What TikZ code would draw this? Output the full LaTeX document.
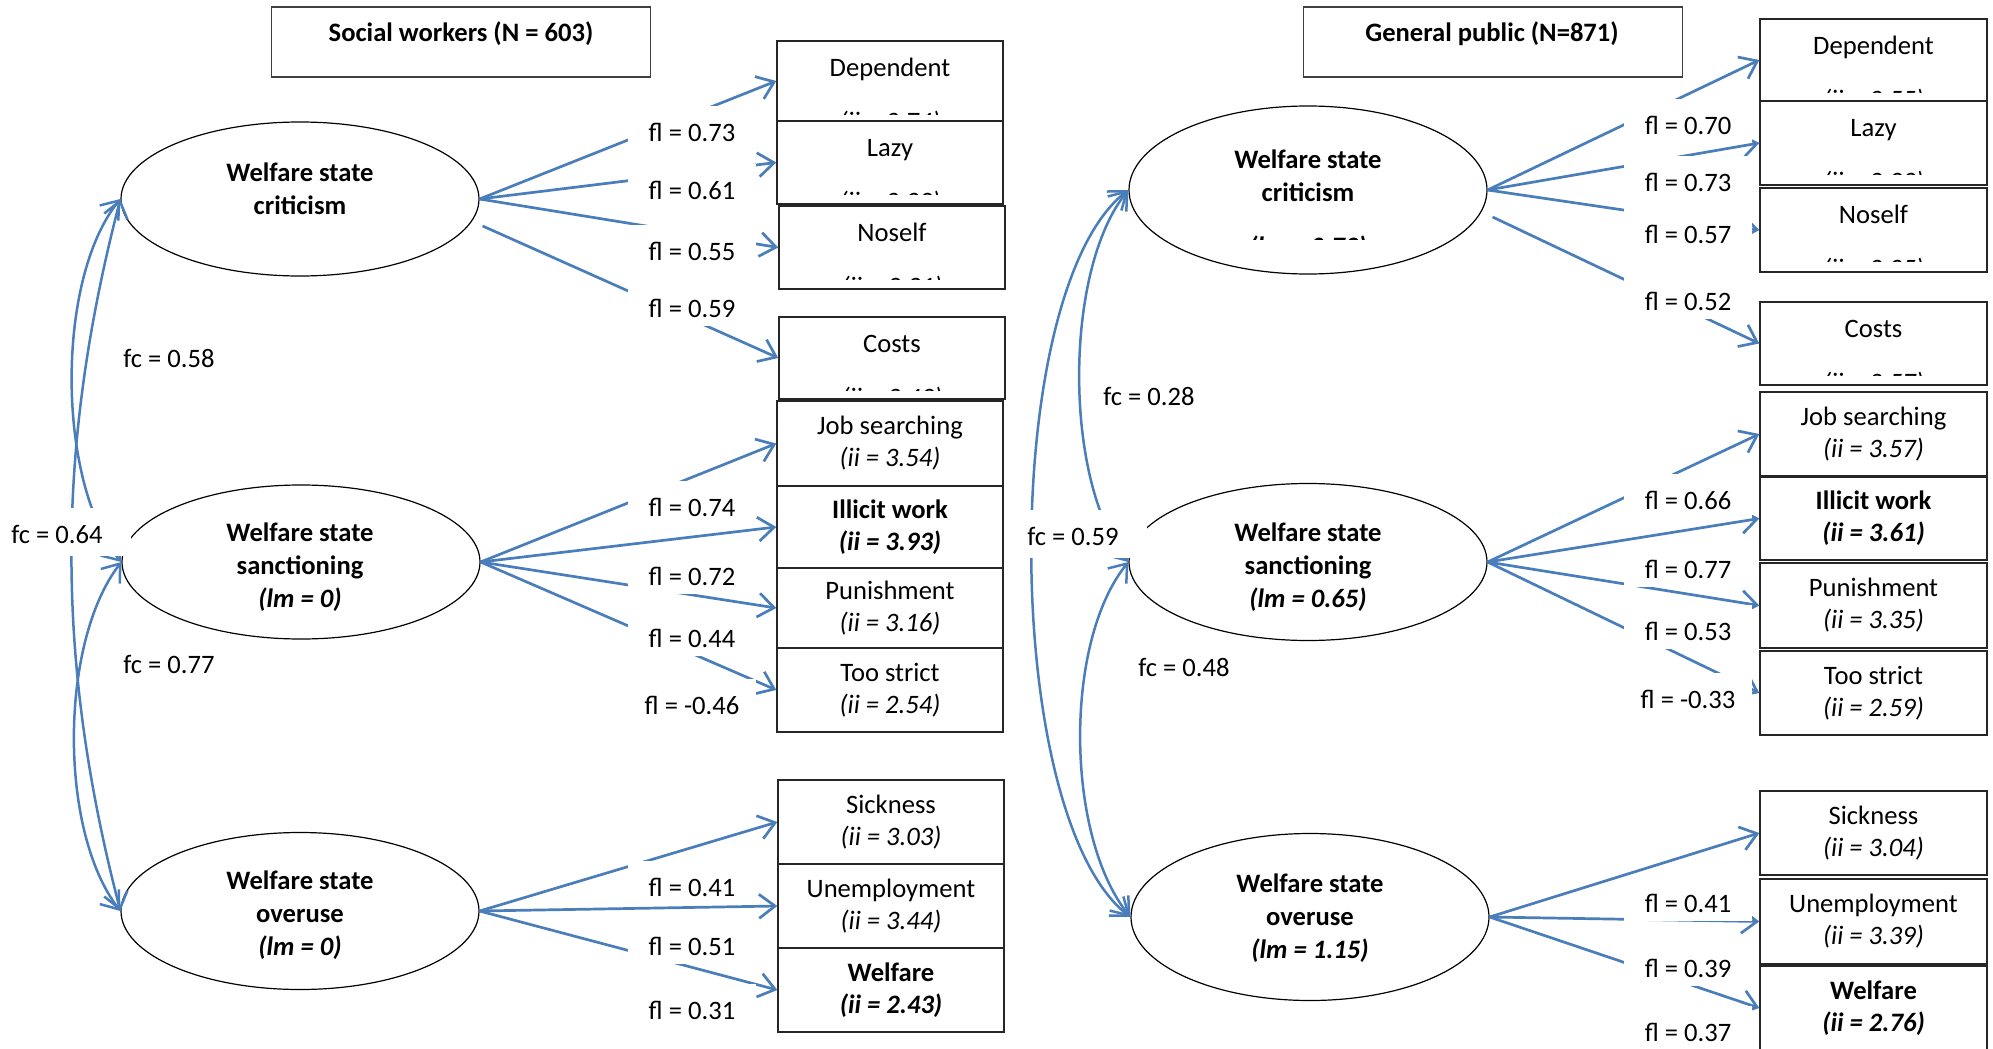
\documentclass[tikz,border=0pt]{standalone}
\usepackage{fontspec}
\setmainfont{Carlito}
\usetikzlibrary{arrows.meta,shapes.geometric}
\definecolor{ablue}{RGB}{74,126,187}
\begin{document}
\begin{tikzpicture}[x=0.5pt,y=-0.5pt,
  every node/.style={font=\fontsize{13.3}{16}\selectfont},
  ell/.style={draw=black, line width=0.6pt, ellipse, minimum width=179pt, inner sep=0pt},
  etext/.style={font=\fontsize{13.3}{16.5}\selectfont\bfseries, align=center, inner sep=0pt},
  ind/.style={draw=black!85, line width=0.7pt, rectangle, fill=white, minimum width=113pt, inner sep=0pt, align=center},
  bind/.style={ind, font=\fontsize{13.3}{16}\selectfont\bfseries},
  title/.style={draw=black!75, line width=0.7pt, rectangle, minimum width=189.5pt, minimum height=35pt, inner sep=0pt},
  ttext/.style={font=\fontsize{13.3}{16}\selectfont\bfseries, inner sep=0pt},
  first/.style={anchor=base, inner sep=0pt},
  second/.style={anchor=base, inner sep=0pt, font=\fontsize{13.3}{16}\selectfont\itshape},
  arr/.style={draw=ablue, line width=1.35pt, -{Straight Barb[length=8pt,width=12pt]}},
  cov/.style={draw=ablue, line width=1.25pt, {Straight Barb[length=8pt,width=12pt]}-{Straight Barb[length=8pt,width=12pt]}},
  fl/.style={fill=white, inner xsep=0pt, inner ysep=0pt, minimum width=64pt, text height=17.8pt, text depth=4.2pt},
  fc/.style={fill=white, anchor=west, inner xsep=5pt, inner ysep=0pt, text width=55pt, align=flush left, text height=17.8pt, text depth=6.2pt}
]
\useasboundingbox (0,0) rectangle (1993,1049);

% ---------- titles ----------
\node[title] (tL) at (461,42) {};
\node[ttext] (tLt) at (461,34) {Social workers (N = 603)};
\node[title] (tR) at (1493,42) {};
\node[ttext] (tRt) at (1492,34) {General public (N=871)};

% ---------- latent ellipses ----------
\node[ell, minimum height=77pt] (cL) at (300,199) {};
\node[ell, minimum height=77pt] (sL) at (301,562) {};
\node[ell, minimum height=78.5pt] (oL) at (300,911) {};
\node[ell, minimum height=84pt] (cR) at (1308,190) {};
\node[ell, minimum height=78.5pt] (sR) at (1308,562) {};
\node[ell, minimum height=83.5pt] (oR) at (1310,917) {};

\node[etext] (cLt) at (300,188.5) {Welfare state\\criticism};
\node[etext] (sLt) at (300,567) {Welfare state\\sanctioning\\\textit{(lm = 0)}};
\node[etext] (oLt) at (300,915) {Welfare state\\overuse\\\textit{(lm = 0)}};
\node[etext] (cRt) at (1308,175.5) {Welfare state\\criticism};
\begin{scope}
  \clip (1200,200) rectangle (1420,239);
  \node[etext, anchor=base] (cRlm) at (1308,255) {\textit{(lm = 0.79)}};
\end{scope}
\node[etext] (sRt) at (1308,567) {Welfare state\\sanctioning\\\textit{(lm = 0.65)}};
\node[etext] (oRt) at (1310,918) {Welfare state\\overuse\\\textit{(lm = 1.15)}};

% ---------- indicator boxes, left ----------
\node[ind, minimum height=40pt] (depL) at (890,81) {};
\node[ind, minimum height=41.5pt] (lazL) at (890,162.5) {};
\node[ind, minimum height=41.5pt] (nosL) at (892,247.5) {};
\node[ind, minimum height=41pt] (cosL) at (892,358) {};
\node[ind, minimum height=42.5pt] (jobL) at (890,443.5) {Job searching\\\textit{(ii = 3.54)}};
\node[bind, minimum height=41pt] (illL) at (890,527) {Illicit work\\\textit{(ii = 3.93)}};
\node[ind, minimum height=40pt] (punL) at (890,608) {Punishment\\\textit{(ii = 3.16)}};
\node[ind, minimum height=42pt] (strL) at (890,690) {Too strict\\\textit{(ii = 2.54)}};
\node[ind, minimum height=42pt] (sicL) at (891,822) {Sickness\\\textit{(ii = 3.03)}};
\node[ind, minimum height=42pt] (uneL) at (891,906) {Unemployment\\\textit{(ii = 3.44)}};
\node[bind, minimum height=42pt] (welL) at (891,990) {Welfare\\\textit{(ii = 2.43)}};

% ---------- indicator boxes, right ----------
\node[ind, minimum width=113.5pt, minimum height=41pt] (depR) at (1873.5,60) {};
\node[ind, minimum width=113.5pt, minimum height=42pt] (lazR) at (1873.5,143) {};
\node[ind, minimum width=113.5pt, minimum height=42pt] (nosR) at (1873.5,230) {};
\node[ind, minimum width=113.5pt, minimum height=41.5pt] (cosR) at (1873.5,343.5) {};
\node[ind, minimum width=113.5pt, minimum height=42pt] (jobR) at (1873.5,434) {Job searching\\\textit{(ii = 3.57)}};
\node[bind, minimum width=113.5pt, minimum height=41.5pt] (illR) at (1873.5,518.5) {Illicit work\\\textit{(ii = 3.61)}};
\node[ind, minimum width=113.5pt, minimum height=42.5pt] (punR) at (1873.5,605.5) {Punishment\\\textit{(ii = 3.35)}};
\node[ind, minimum width=113.5pt, minimum height=42pt] (strR) at (1873.5,693) {Too strict\\\textit{(ii = 2.59)}};
\node[ind, minimum width=113.5pt, minimum height=42pt] (sicR) at (1873.5,833) {Sickness\\\textit{(ii = 3.04)}};
\node[ind, minimum width=113.5pt, minimum height=42.5pt] (uneR) at (1873.5,921.5) {Unemployment\\\textit{(ii = 3.39)}};
\node[bind, minimum width=113.5pt, minimum height=42pt] (welR) at (1873.5,1008) {Welfare\\\textit{(ii = 2.76)}};

% ---------- box texts with clipped second line ----------
\foreach \b/\t/\v in {depL/Dependent/3.74, lazL/Lazy/3.33, nosL/Noself/3.21, cosL/Costs/3.43,
                      depR/Dependent/3.55, lazR/Lazy/3.33, nosR/Noself/3.25, cosR/Costs/3.57}{
  \node[first] (\b t) at ([yshift=-18pt]\b.north) {\t};
  \begin{scope}
    \clip ([yshift=-37pt]\b.north west) rectangle (\b.north east);
    \node[second] (\b v) at ([yshift=-45pt]\b.north) {(ii = \v)};
  \end{scope}
}

% ---------- loadings, left ----------
\draw[arr] (cL.east) -- (depL.west);
\draw[arr] (cL.east) -- (lazL.west);
\draw[arr] (cL.east) -- (nosL.west);
\draw[arr] ([shift={(3,27)}]cL.east) -- (cosL.west);
\draw[arr] (sL.east) -- (jobL.west);
\draw[arr] (sL.east) -- (illL.west);
\draw[arr] (sL.east) -- (punL.west);
\draw[arr] (sL.east) -- (strL.west);
\draw[arr] (oL.east) -- (sicL.west);
\draw[arr] (oL.east) -- (uneL.west);
\draw[arr] (oL.east) -- (welL.west);

% ---------- loadings, right ----------
\draw[arr] (cR.east) -- (depR.west);
\draw[arr] (cR.east) -- (lazR.west);
\draw[arr] (cR.east) -- (nosR.west);
\draw[arr] ([shift={(5,27)}]cR.east) -- (cosR.west);
\draw[arr] (sR.east) -- (jobR.west);
\draw[arr] (sR.east) -- (illR.west);
\draw[arr] (sR.east) -- (punR.west);
\draw[arr] (sR.east) -- (strR.west);
\draw[arr] (oR.east) -- (sicR.west);
\draw[arr] (oR.east) -- (uneR.west);
\draw[arr] (oR.east) -- (welR.west);

% ---------- factor covariances ----------
\draw[cov] (cL.west) .. controls +(-65,80) and +(-65,-80) .. (sL.west);
\draw[cov] (cL.west) .. controls +(-65,250) and +(-65,-250) .. (oL.west);
\draw[cov] (sL.west) .. controls +(-62,80) and +(-62,-80) .. (oL.west);
\draw[cov] (cR.west) .. controls +(-65,80) and +(-65,-80) .. (sR.west);
\draw[cov] (cR.west) .. controls +(-130,100) and +(-130,-100) .. (oR.west);
\draw[cov] (sR.west) .. controls +(-65,80) and +(-65,-80) .. (oR.west);

% ---------- labels, left ----------
\node[fl] (lcL1) at (692,128) {fl = 0.73};
\node[fl] (lcL2) at (692,186) {fl = 0.61};
\node[fl] (lcL3) at (692,247) {fl = 0.55};
\node[fl] (lcL4) at (692,304) {fl = 0.59};
\node[fl] (lsL1) at (692,503) {fl = 0.74};
\node[fl] (lsL2) at (692,572) {fl = 0.72};
\node[fl] (lsL3) at (692,634) {fl = 0.44};
\node[fl] (lsL4) at (692,701) {fl = -0.46};
\node[fl] (loL1) at (692,883) {fl = 0.41};
\node[fl] (loL2) at (692,942) {fl = 0.51};
\node[fl] (loL3) at (692,1006) {fl = 0.31};

% ---------- labels, right ----------
\node[fl] (lcR1) at (1688,121) {fl = 0.70};
\node[fl] (lcR2) at (1688,178) {fl = 0.73};
\node[fl] (lcR3) at (1688,230) {fl = 0.57};
\node[fl] (lcR4) at (1688,297) {fl = 0.52};
\node[fl] (lsR1) at (1688,496) {fl = 0.66};
\node[fl] (lsR2) at (1688,565) {fl = 0.77};
\node[fl] (lsR3) at (1688,627) {fl = 0.53};
\node[fl] (lsR4) at (1688,695) {fl = -0.33};
\node[fl] (loR1) at (1688,899) {fl = 0.41};
\node[fl] (loR2) at (1688,964) {fl = 0.39};
\node[fl] (loR3) at (1688,1028) {fl = 0.37};

% ---------- covariance labels ----------
\node[fc] (fcL1) at (113,356) {fc = 0.58};
\node[fc] (fcL2) at (1,532) {fc = 0.64};
\node[fc] (fcL3) at (113,662) {fc = 0.77};
\node[fc] (fcR1) at (1093,394) {fc = 0.28};
\node[fc] (fcR2) at (1017,534) {fc = 0.59};
\node[fc] (fcR3) at (1128,665) {fc = 0.48};
\end{tikzpicture}
\end{document}
